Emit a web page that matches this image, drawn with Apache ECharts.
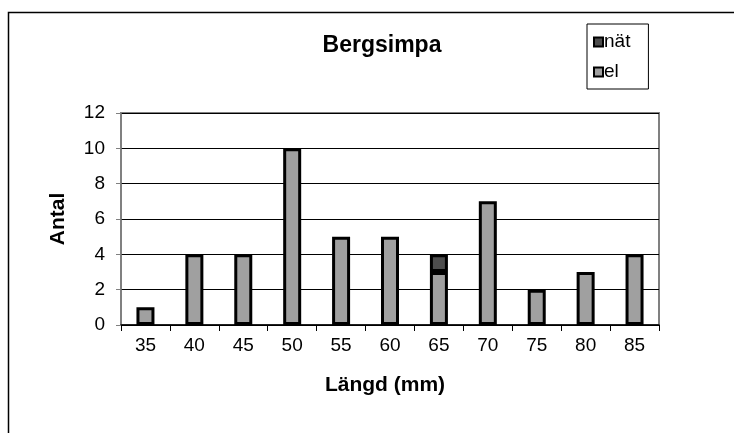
<!DOCTYPE html>
<html>
<head>
<meta charset="utf-8">
<script src="https://cdn.jsdelivr.net/npm/echarts@6/dist/echarts.min.js"></script>
<style>
  html, body { margin: 0; padding: 0; background: #ffffff; }
  #chart { width: 734px; height: 433px; }
</style>
</head>
<body>
<div id="chart"></div>
<script>
// Length classes (mm) and catch counts per method (null = none caught)
const lengths = ['35', '40', '45', '50', '55', '60', '65', '70', '75', '80', '85'];
const elCounts = [1, 4, 4, 10, 5, 5, 3, 7, 2, 3, 4];
const natCounts = [null, null, null, null, null, null, 1, null, null, null, null];
const yTicks = { min: 0, max: 12, interval: 2 };

const FONT = '"Liberation Sans", Arial, sans-serif';

const chart = echarts.init(document.getElementById('chart'), null, { renderer: 'canvas' });

chart.setOption({
  backgroundColor: '#ffffff',
  animation: false,
  textStyle: { fontFamily: FONT, color: '#000000' },
  title: {
    text: 'Bergsimpa',
    left: 377,
    top: 29,
    textAlign: 'center',
    textStyle: { fontFamily: FONT, fontSize: 23, fontWeight: 'bold', color: '#000000' }
  },
  legend: {
    orient: 'vertical',
    left: 587,
    top: 24,
    padding: [7, 18, 6, 6],
    itemGap: 8,
    itemWidth: 9,
    itemHeight: 9,
    icon: 'rect',
    borderColor: '#000000',
    borderWidth: 1,
    backgroundColor: '#ffffff',
    textStyle: { fontFamily: FONT, fontSize: 19, lineHeight: 22, color: '#000000', padding: [0, 0, 0, -4] },
    itemStyle: { borderColor: '#000000', borderWidth: 2 },
    data: ['nät', 'el']
  },
  graphic: [{
    type: 'rect',
    shape: { x: 8.5, y: 12.5, width: 900, height: 600 },
    style: { fill: 'none', stroke: '#000000', lineWidth: 1.5 },
    silent: true,
    z: -10
  }],
  grid: {
    left: 121,
    top: 113,
    right: 75,
    bottom: 108,
    show: true,
    borderColor: '#808080',
    borderWidth: 2,
    containLabel: false
  },
  xAxis: {
    type: 'category',
    data: lengths,
    boundaryGap: true,
    name: 'Längd (mm)',
    nameLocation: 'middle',
    nameGap: 50,
    nameTextStyle: { fontFamily: FONT, fontSize: 21, fontWeight: 'bold', color: '#000000', padding: [0, 0, 0, -10] },
    axisLine: { show: true, lineStyle: { color: '#000000', width: 1.5 } },
    axisTick: { show: true, alignWithLabel: false, length: 6, lineStyle: { color: '#000000' } },
    axisLabel: { fontFamily: FONT, fontSize: 19, color: '#000000', margin: 11 },
    splitLine: { show: false }
  },
  yAxis: {
    type: 'value',
    min: yTicks.min,
    max: yTicks.max,
    interval: yTicks.interval,
    name: 'Antal',
    nameLocation: 'middle',
    nameGap: 52,
    nameRotate: 90,
    nameTextStyle: { fontFamily: FONT, fontSize: 21, fontWeight: 'bold', color: '#000000' },
    axisLine: { show: true, lineStyle: { color: '#808080', width: 1.5 } },
    axisTick: { show: true, length: 5, lineStyle: { color: '#808080' } },
    axisLabel: { fontFamily: FONT, fontSize: 19, color: '#000000', margin: 16 },
    splitLine: { show: true, lineStyle: { color: '#000000', width: 1 } }
  },
  series: [
    {
      name: 'el',
      type: 'bar',
      stack: 'antal',
      barWidth: 18,
      data: elCounts,
      itemStyle: { color: '#a0a0a0', borderColor: '#000000', borderWidth: 3 }
    },
    {
      name: 'nät',
      type: 'bar',
      stack: 'antal',
      barWidth: 18,
      data: natCounts,
      itemStyle: { color: '#4d4d4d', borderColor: '#000000', borderWidth: 3 }
    }
  ]
});
</script>
</body>
</html>
